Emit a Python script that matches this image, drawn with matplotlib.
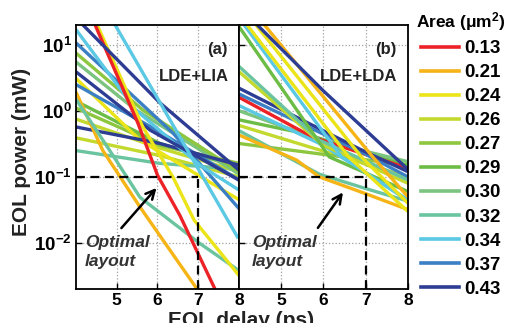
import numpy as np
import matplotlib
matplotlib.use('Agg')
import matplotlib.pyplot as plt
from matplotlib.lines import Line2D

plt.rcParams['font.family'] = ['Liberation Sans', 'DejaVu Sans']
plt.rcParams['font.weight'] = 'bold'
plt.rcParams['mathtext.fontset'] = 'custom'
plt.rcParams['mathtext.rm'] = 'Liberation Sans:bold'
plt.rcParams['mathtext.bf'] = 'Liberation Sans:bold'
plt.rcParams['mathtext.it'] = 'Liberation Sans:bold:italic'

# legend areas (um^2) and their colours
areas = [0.13, 0.21, 0.24, 0.26, 0.27, 0.29, 0.30, 0.32, 0.34, 0.37, 0.43]
area_colors = ['#ec2227', '#f6b416', '#ebe418', '#c4d92e', '#8dc63f', '#6cbd45',
               '#7ac47f', '#6bc4a0', '#5bc8e4', '#3b7fc4', '#2e3d94']

# (area, delay [ps], power [mW]) for LDE+LIA
lia_curves = [
    (0.26, [4, 6.06, 8], [0.39, 0.21, 0.10]),
    (0.32, [4, 6.06, 8], [0.25, 0.16, 0.13]),
    (0.26, [4, 6.0, 8], [0.75, 0.28, 0.12]),
    (0.27, [4, 6.06, 8], [1.1, 0.30, 0.16]),
    (0.29, [4, 6.06, 8], [1.4, 0.32, 0.14]),
    (0.30, [4, 5.47, 8], [5.5, 1.03, 0.11]),
    (0.27, [4, 5.64, 8], [7.5, 1.03, 0.12]),
    (0.24, [4, 5.57, 8], [3.1, 0.36, 0.045]),
    (0.37, [4, 6.0, 8], [2.5, 0.5, 0.09]),
    (0.43, [4, 6.06, 8], [0.57, 0.32, 0.15]),
    (0.21, [4, 4.66, 5.57, 6.31, 6.97], [1.93, 0.25, 0.035, 0.0077, 0.002]),
    (0.32, [4, 4.83, 5.57, 7.04, 8], [1.5, 0.25, 0.049, 0.0098, 0.0038]),
    (0.37, [4, 6.38, 8], [10.7, 0.46, 0.033]),
    (0.34, [4, 5.47, 7.04, 8], [17, 1.03, 0.15, 0.063]),
    (0.43, [4, 5.82, 8], [3.9, 0.51, 0.089]),
    (0.24, [4.52, 5.64, 6.38, 6.9, 8], [20, 0.57, 0.099, 0.022, 0.0032]),
    (0.13, [4.47, 5.52, 6.0, 6.55, 7.41], [20, 0.65, 0.106, 0.026, 0.002]),
    (0.43, [4.17, 6.06, 8], [20, 1.32, 0.126]),
    (0.34, [4.96, 6.55, 7.98], [20, 0.40, 0.0117]),
]

# (area, delay [ps], power [mW]) for LDE+LDA
lda_curves = [
    (0.26, [4, 8], [0.6, 0.10]),
    (0.27, [4, 8], [0.32, 0.15]),
    (0.29, [4, 5.5, 8], [0.73, 0.46, 0.15]),
    (0.30, [4, 6, 8], [1.0, 0.35, 0.17]),
    (0.32, [4, 5.9, 7.02, 8], [0.5, 0.11, 0.066, 0.043]),
    (0.21, [4, 5.36, 5.9, 7.02, 8], [0.43, 0.18, 0.1, 0.055, 0.032]),
    (0.13, [4, 5.74, 8], [1.6, 0.40, 0.135]),
    (0.34, [4, 6, 8], [1.2, 0.3, 0.044]),
    (0.37, [4, 7, 8], [1.8, 0.22, 0.10]),
    (0.43, [4, 6.93, 8], [2.2, 0.25, 0.12]),
    (0.26, [4, 6, 8], [3.9, 0.3, 0.08]),
    (0.32, [4, 5.9, 8], [4.7, 0.36, 0.09]),
    (0.29, [4, 6.14, 8], [18.8, 0.2, 0.06]),
    (0.34, [4.12, 6.43, 8], [20, 0.2, 0.045]),
    (0.24, [4.19, 6.6, 8], [20, 0.2, 0.03]),
    (0.24, [4.4, 6.9, 8], [20, 0.2, 0.04]),
    (0.21, [4.6, 7.17, 8], [20, 0.2, 0.05]),
    (0.43, [4.43, 6.0, 8], [20, 2.0, 0.13]),
]

panel_tags = ['(a)', '(b)']
panel_names = ['LDE+LIA', 'LDE+LDA']
target_delay = 7
target_power = 0.1
arrow_tail = [(5.07, 0.0156), (5.83, 0.0156)]
arrow_head = [(6.02, 0.073), (6.5, 0.063)]
text_x = [4.22, 4.31]

color_of = dict(zip(areas, area_colors))

fig = plt.figure(figsize=(5.13, 3.23), dpi=100)
ax_a = fig.add_axes([0.148, 0.105, 0.318, 0.818])
ax_b = fig.add_axes([0.466, 0.105, 0.329, 0.818], sharey=ax_a)

for i, (ax, curves) in enumerate(zip([ax_a, ax_b], [lia_curves, lda_curves])):
    for area, xs, ys in curves:
        ax.plot(xs, ys, color=color_of[area], lw=2.4, solid_capstyle='butt')
    ax.set_yscale('log')
    ax.set_xlim(4, 8)
    ax.set_ylim(0.002, 20)
    ax.set_xticks([5, 6, 7, 8])
    ax.set_yticks([1e-2, 1e-1, 1e0, 1e1])
    ax.yaxis.set_minor_locator(matplotlib.ticker.NullLocator())
    ax.grid(True, which='major', ls=':', color='#a0a0a0', lw=0.9)
    ax.tick_params(direction='in', length=4, width=1, labelsize=12.5, pad=3)
    for sp in ax.spines.values():
        sp.set_linewidth(1.3)
        sp.set_zorder(5)

    # dashed guides to the chosen delay/power
    ax.plot([4, target_delay], [target_power, target_power], 'k--', lw=1.6, dashes=(4, 2.5))
    ax.plot([target_delay, target_delay], [0.002, target_power], 'k--', lw=1.6, dashes=(4, 2.5))

    ax.text(0.93, 0.905, panel_tags[i], transform=ax.transAxes, ha='right', va='center',
            fontsize=12, fontweight='bold', color='#222222')
    ax.text(0.94, 0.805, panel_names[i], transform=ax.transAxes, ha='right', va='center',
            fontsize=12, fontweight='bold', color='#222222')

    ax.annotate('', xy=arrow_head[i], xytext=arrow_tail[i],
                arrowprops=dict(arrowstyle='->', lw=1.8, color='black', mutation_scale=16))
    ax.text(text_x[i], 0.0103, 'Optimal', fontsize=12.5, fontweight='bold', style='italic',
            color='#333333', va='center', ha='left')
    ax.text(text_x[i], 0.0053, 'layout', fontsize=12.5, fontweight='bold', style='italic',
            color='#333333', va='center', ha='left')

ax_a.set_yticklabels([r'$10^{-2}$', r'$10^{-1}$', r'$10^{0}$', r'$10^{1}$'], fontsize=13.5)
ax_b.tick_params(labelleft=False)
for lab in ax_a.get_xticklabels() + ax_b.get_xticklabels():
    lab.set_fontweight('bold')

fig.text(0.042, 0.53, 'EOL power (mW)', rotation=90, ha='center', va='center',
         fontsize=15, fontweight='bold', color='#222222')
fig.text(0.47, 0.038, 'EOL delay (ps)', ha='center', va='top',
         fontsize=15, fontweight='bold', color='#222222')

handles = [Line2D([0], [0], color=c, lw=2.6) for c in area_colors]
labels = ['%.2f' % a for a in areas]
leg = fig.legend(handles, labels, loc='upper left', bbox_to_anchor=(0.782, 1.015),
                 frameon=False, fontsize=13.5, handlelength=2.0, handletextpad=0.3,
                 labelspacing=0.37, borderpad=0.3, title=r'Area (μm$^2$)',
                 title_fontproperties={'weight': 'bold', 'size': 12.5})
for t in leg.get_texts():
    t.set_fontweight('bold')

fig.savefig('out.png', dpi=100)
